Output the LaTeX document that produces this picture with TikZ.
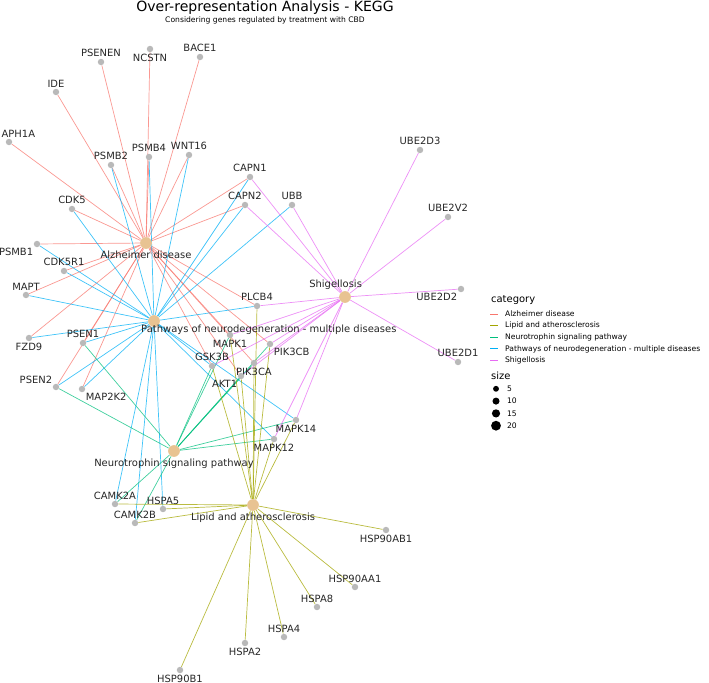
\documentclass[tikz,border=0pt]{standalone}
\usepackage{fontspec}
\setmainfont{DejaVu Sans}
\usetikzlibrary{backgrounds}
\definecolor{cAD}{HTML}{F8766D}
\definecolor{cLA}{HTML}{A3A500}
\definecolor{cNT}{HTML}{00BF7D}
\definecolor{cPN}{HTML}{00B0F6}
\definecolor{cSH}{HTML}{E76BF3}
\definecolor{cat}{HTML}{E8C392}
\tikzset{
  gene/.style={circle,fill=gray!55,inner sep=0pt,minimum size=5.5pt},
  path/.style={circle,fill=cat,inner sep=0pt,minimum size=10pt},
  every label/.style={font=\fontsize{8.5}{9}\selectfont,text=black!85,inner sep=1pt},
  label distance=0pt,
  edge/.style={line width=0.6pt,opacity=0.75}
}
\begin{document}
\begin{tikzpicture}[x=0.03cm,y=-0.03cm]
\useasboundingbox (0,0) rectangle (709,683);
% title
\node[font=\fontsize{12}{13}\selectfont] (title) at (265,8) {Over-representation Analysis - KEGG};
\node[font=\fontsize{6.5}{7}\selectfont] (subtitle) at (265,20) {Considering genes regulated by treatment with CBD};
% categories
\node[path,label={below:Alzheimer disease}] (AD) at (146,243) {};
\node[path] (PN) at (154,321) {};
\node[anchor=north west,font=\fontsize{8.5}{9}\selectfont,inner sep=0pt,text=black!85] (PNlab) at (141,325) {Pathways of neurodegeneration - multiple diseases};
\node[path,label={below:Neurotrophin signaling pathway}] (NT) at (174,451) {};
\node[path,label={below:Lipid and atherosclerosis}] (LA) at (253,505) {};
\node[path,label={[xshift=-8pt]above:Shigellosis}] (SH) at (345,297) {};
% genes
\node[gene,label=above:PSENEN] (PSENEN) at (101,62) {};
\node[gene,label=below:NCSTN] (NCSTN) at (150,49) {};
\node[gene,label=above:BACE1] (BACE1) at (200,57) {};
\node[gene,label=above:IDE] (IDE) at (56,92) {};
\node[gene,label={[xshift=8pt]above:APH1A}] (APH1A) at (9,142) {};
\node[gene,label=above:PSMB4] (PSMB4) at (149,157) {};
\node[gene,label=above:WNT16] (WNT16) at (189,155) {};
\node[gene,label=above:PSMB2] (PSMB2) at (111,165) {};
\node[gene,label=above:CAPN1] (CAPN1) at (250,177) {};
\node[gene,label=above:CAPN2] (CAPN2) at (245,205) {};
\node[gene,label=above:UBB] (UBB) at (292,205) {};
\node[gene,label=above:CDK5] (CDK5) at (72,209) {};
\node[gene,label=below left:PSMB1] (PSMB1) at (37,244) {};
\node[gene,label=above:CDK5R1] (CDK5R1) at (64,271) {};
\node[gene,label=above:MAPT] (MAPT) at (26,295) {};
\node[gene,label=above:PLCB4] (PLCB4) at (257,306) {};
\node[gene,label=below:FZD9] (FZD9) at (29,338) {};
\node[gene,label=above:PSEN1] (PSEN1) at (83,343) {};
\node[gene,label=below:MAPK1] (MAPK1) at (230,335) {};
\node[gene,label=below right:PIK3CB] (PIK3CB) at (270,344) {};
\node[gene,label=above:GSK3B] (GSK3B) at (212,366) {};
\node[gene,label=below:PIK3CA] (PIK3CA) at (254,363) {};
\node[gene,label=below left:AKT1] (AKT1) at (241,376) {};
\node[gene,label=above left:PSEN2] (PSEN2) at (56,387) {};
\node[gene,label=below right:MAP2K2] (MAP2K2) at (82,389) {};
\node[gene,label=below:MAPK14] (MAPK14) at (296,420) {};
\node[gene,label=below:MAPK12] (MAPK12) at (274,439) {};
\node[gene,label=above:CAMK2A] (CAMK2A) at (115,504) {};
\node[gene,label=above:HSPA5] (HSPA5) at (163,509) {};
\node[gene,label=above:CAMK2B] (CAMK2B) at (135,523) {};
\node[gene,label=below:HSP90AB1] (HSP90AB1) at (386,530) {};
\node[gene,label=above:HSP90AA1] (HSP90AA1) at (355,587) {};
\node[gene,label=above:HSPA8] (HSPA8) at (317,607) {};
\node[gene,label=above:HSPA4] (HSPA4) at (284,637) {};
\node[gene,label=below:HSPA2] (HSPA2) at (245,643) {};
\node[gene,label=below:HSP90B1] (HSP90B1) at (180,670) {};
\node[gene,label=above:UBE2D3] (UBE2D3) at (420,150) {};
\node[gene,label=above:UBE2V2] (UBE2V2) at (448,217) {};
\node[gene,label=below left:UBE2D2] (UBE2D2) at (461,289) {};
\node[gene,label=above:UBE2D1] (UBE2D1) at (458,362) {};
% connectors
\begin{pgfonlayer}{background}
\foreach \g in {PSENEN,NCSTN,BACE1,IDE,APH1A,PSMB4,WNT16,PSMB2,CAPN1,CAPN2,CDK5,PSMB1,CDK5R1,MAPT,FZD9,PSEN1,PSEN2,MAP2K2,PLCB4,MAPK1,PIK3CB,GSK3B,PIK3CA,AKT1}
  \draw[edge,cAD] (AD) -- (\g);
\foreach \g in {PSMB4,PSMB2,WNT16,CAPN1,CAPN2,UBB,CDK5,PSMB1,CDK5R1,MAPT,PLCB4,FZD9,PSEN1,PSEN2,MAP2K2,GSK3B,MAPK14,MAPK12,CAMK2A,CAMK2B,HSPA5}
  \draw[edge,cPN] (PN) -- (\g);
\foreach \g in {PSEN1,PSEN2,GSK3B,AKT1,PIK3CA,PIK3CB,MAPK1,MAPK14,MAPK12,CAMK2A,CAMK2B}
  \draw[edge,cNT] (NT) -- (\g);
\foreach \g in {CAMK2A,HSPA5,CAMK2B,HSP90AB1,HSP90AA1,HSPA8,HSPA4,HSPA2,HSP90B1,PLCB4,MAPK1,GSK3B,AKT1,PIK3CA,PIK3CB,MAPK14,MAPK12}
  \draw[edge,cLA] (LA) -- (\g);
\foreach \g in {UBE2D3,UBE2V2,UBE2D2,UBE2D1,CAPN1,CAPN2,UBB,PLCB4,MAPK1,GSK3B,PIK3CB,PIK3CA,AKT1,MAPK14,MAPK12}
  \draw[edge,cSH] (SH) -- (\g);
\end{pgfonlayer}
% legend
\node[anchor=west,font=\fontsize{8.5}{9}\selectfont] (legcat) at (487,300) {category};
\foreach \c/\t [count=\i] in {cAD/Alzheimer disease,cLA/Lipid and atherosclerosis,cNT/Neurotrophin signaling pathway,cPN/Pathways of neurodegeneration - multiple diseases,cSH/Shigellosis}{
  \coordinate (la\i) at (490,302.5+11.6*\i);
  \coordinate (lb\i) at (498,302.5+11.6*\i);
  \draw[line width=1pt,draw=\c] (la\i) -- (lb\i);
  \node[anchor=west,font=\fontsize{6.5}{7}\selectfont] (lt\i) at (501,302.5+11.6*\i) {\t};
}
\node[anchor=west,font=\fontsize{8.5}{9}\selectfont] (legsize) at (487,376) {size};
\foreach \s/\r [count=\i] in {5/2.5,10/3,15/3.5,20/4.2}{
  \fill (496,376.5+12.3*\i) circle (\r pt);
  \node[anchor=west,font=\fontsize{6.5}{7}\selectfont] (ls\i) at (503,376.5+12.3*\i) {\s};
}
\end{tikzpicture}
\end{document}
